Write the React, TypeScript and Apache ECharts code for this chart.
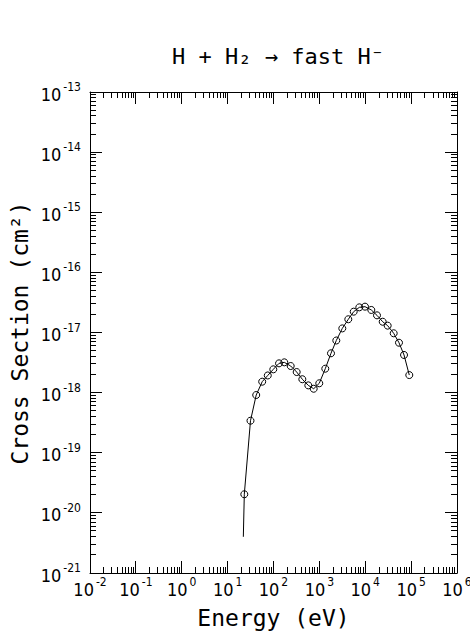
import React, { useEffect, useRef } from "react";
import * as echarts from "echarts";

const energy = [
  23.1, 31.5, 42, 56.7, 75, 99, 132, 172, 237, 320, 425, 574, 752, 995, 1346,
  1792, 2339, 3162, 4272, 5600, 7420, 9880, 13550, 18030, 24000, 30800, 41700,
  54400, 70000, 91200,
];
const crossSection = [
  2.04e-20, 3.41e-19, 9.12e-19, 1.52e-18, 1.93e-18, 2.44e-18, 3.07e-18,
  3.19e-18, 2.77e-18, 2.2e-18, 1.67e-18, 1.32e-18, 1.16e-18, 1.43e-18, 2.5e-18,
  4.51e-18, 7.36e-18, 1.17e-17, 1.66e-17, 2.22e-17, 2.62e-17, 2.69e-17,
  2.37e-17, 1.93e-17, 1.51e-17, 1.3e-17, 9.7e-18, 6.76e-18, 4.23e-18, 1.96e-18,
];
// fitted curve start (no marker)
const curveStart = [22.0, 4.0e-21];

const X_MIN = 1e-2;
const X_MAX = 1e6;
const Y_MIN = 1e-21;
const Y_MAX = 1e-13;

const xDecades = [-2, -1, 0, 1, 2, 3, 4, 5, 6];
const yDecades = [-21, -20, -19, -18, -17, -16, -15, -14, -13];

const TITLE = "H + H₂ → fast H⁻";
const X_NAME = "Energy (eV)";
const Y_NAME = "Cross Section (cm²)";

function buildTicks(decades: number[]) {
  const out: { v: number; major: number; d: number }[] = [];
  decades.forEach((d, i) => {
    out.push({ v: Math.pow(10, d), major: 1, d });
    if (i < decades.length - 1) {
      for (let k = 2; k <= 9; k++) out.push({ v: k * Math.pow(10, d), major: 0, d });
    }
  });
  return out;
}

const FONT_TICK = "'Liberation Sans Narrow', 'DejaVu Sans Condensed', 'Liberation Sans', sans-serif";
const FONT_TITLE = "'DejaVu Sans Mono', monospace";

const labelRich = {
  b: { fontSize: 18, fontFamily: FONT_TICK, color: "#000", verticalAlign: "bottom", lineHeight: 22 },
  s: { fontSize: 12, fontFamily: FONT_TICK, color: "#000", verticalAlign: "top", padding: [0, 0, 0, 2] },
};
const labelRichZr = {
  b: { fontSize: 18, fontFamily: FONT_TICK, fill: "#000", verticalAlign: "bottom", lineHeight: 22 },
  s: { fontSize: 12, fontFamily: FONT_TICK, fill: "#000", verticalAlign: "top", padding: [0, 0, 0, 2] },
};

const powFormatter = (val: number) => {
  const e = Math.round(Math.log10(val));
  return `{b|10}{s|${e}}`;
};

export default function App() {
  const ref = useRef<HTMLDivElement>(null);
  useEffect(() => {
    if (!ref.current) return;
    const chart = echarts.init(ref.current, null, { renderer: "svg" });
    const xTicks = buildTicks(xDecades);
    const yTicks = buildTicks(yDecades);
    const crisp = (n: number) => Math.round(n - 0.5) + 0.5;

    const curveData: any[] = [
      { value: curveStart, symbol: "none" },
      ...energy.map((e, i) => [e, crossSection[i]]),
    ];

    const tickStyle = { stroke: "#000", lineWidth: 1 };
    const axisLine = { show: true, onZero: false, lineStyle: { color: "#000", width: 1 } };

    chart.setOption({
      animation: false,
      backgroundColor: "#fff",
      grid: {
        left: 90,
        right: 13,
        top: 92,
        bottom: 61,
        containLabel: false,
        outerBoundsMode: "none",
      },
      title: {
        text: TITLE,
        left: 273,
        top: 40,
        textAlign: "center",
        textStyle: { fontFamily: FONT_TITLE, fontSize: 22, fontWeight: "normal", color: "#000" },
      },
      graphic: [
        {
          type: "text",
          x: 20,
          y: 333,
          rotation: Math.PI / 2,
          style: {
            text: Y_NAME,
            fontFamily: FONT_TITLE,
            fontSize: 23,
            fill: "#000",
            textAlign: "center",
            textVerticalAlign: "middle",
            verticalAlign: "middle",
          },
        },
      ],
      xAxis: [
        {
          type: "log",
          logBase: 10,
          min: X_MIN,
          max: X_MAX,
          position: "bottom",
          axisLine,
          axisTick: { show: false },
          splitLine: { show: false },
          axisLabel: {
            formatter: powFormatter,
            rich: labelRich,
            showMinLabel: true,
            showMaxLabel: true,
            hideOverlap: false,
            margin: 3,
          },
          name: X_NAME,
          nameLocation: "middle",
          nameGap: 33,
          nameTextStyle: { fontFamily: FONT_TITLE, fontSize: 23, color: "#000" },
        },
        {
          type: "log",
          logBase: 10,
          min: X_MIN,
          max: X_MAX,
          position: "top",
          axisLine,
          axisTick: { show: false },
          splitLine: { show: false },
          axisLabel: { show: false },
        },
      ],
      yAxis: [
        {
          type: "log",
          logBase: 10,
          min: Y_MIN,
          max: Y_MAX,
          position: "left",
          axisLine,
          axisTick: { show: false },
          splitLine: { show: false },
          axisLabel: { show: false },
        },
        {
          type: "log",
          logBase: 10,
          min: Y_MIN,
          max: Y_MAX,
          position: "right",
          axisLine,
          axisTick: { show: false },
          splitLine: { show: false },
          axisLabel: { show: false },
        },
      ],
      series: [
        {
          type: "custom",
          xAxisIndex: 0,
          yAxisIndex: 0,
          clip: false,
          silent: true,
          data: xTicks.map((t) => [t.v, Y_MIN, t.major]),
          renderItem: (params: any, api: any) => {
            const v = api.value(0);
            const len = api.value(2) ? 12 : 6;
            const pb = api.coord([v, Y_MIN]);
            const pt = api.coord([v, Y_MAX]);
            const x = crisp(pb[0]);
            return {
              type: "group",
              children: [
                { type: "line", shape: { x1: x, y1: pb[1], x2: x, y2: pb[1] - len }, style: tickStyle },
                { type: "line", shape: { x1: x, y1: pt[1], x2: x, y2: pt[1] + len }, style: tickStyle },
              ],
            };
          },
        },
        {
          type: "custom",
          xAxisIndex: 0,
          yAxisIndex: 0,
          clip: false,
          silent: true,
          data: yTicks.map((t) => [X_MIN, t.v, t.major, t.d]),
          renderItem: (params: any, api: any) => {
            const v = api.value(1);
            const major = api.value(2);
            const len = major ? 12 : 6;
            const pl = api.coord([X_MIN, v]);
            const pr = api.coord([X_MAX, v]);
            const y = crisp(pl[1]);
            const children: any[] = [
              { type: "line", shape: { x1: pl[0], y1: y, x2: pl[0] + len, y2: y }, style: tickStyle },
              { type: "line", shape: { x1: pr[0], y1: y, x2: pr[0] - len, y2: y }, style: tickStyle },
            ];
            if (major) {
              children.push({
                type: "text",
                x: pl[0] - 9,
                y: pl[1],
                style: {
                  text: `{b|10}{s|${api.value(3)}}`,
                  rich: labelRichZr,
                  align: "right",
                  verticalAlign: "middle",
                  fill: "#000",
                },
              });
            }
            return { type: "group", children };
          },
        },
        {
          type: "line",
          xAxisIndex: 0,
          yAxisIndex: 0,
          data: curveData,
          symbol: "circle",
          symbolSize: 7,
          showSymbol: true,
          showAllSymbol: true,
          lineStyle: { color: "#000", width: 1 },
          itemStyle: { color: "rgba(0,0,0,0)", borderColor: "#000", borderWidth: 1 },
          z: 5,
        },
      ],
    });
    return () => chart.dispose();
  }, []);
  return (
    <div
      ref={ref}
      style={{ position: "fixed", left: 0, top: 0, width: 470, height: 634, background: "#fff" }}
    />
  );
}
